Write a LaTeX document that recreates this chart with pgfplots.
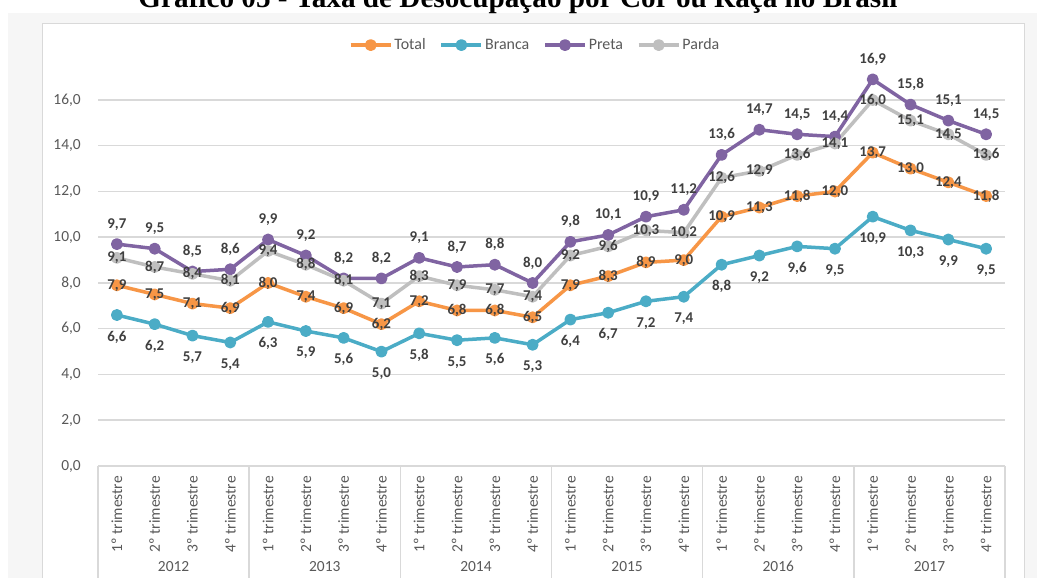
\documentclass[border=0pt]{standalone}
\usepackage{pgfplots}
\pgfplotsset{compat=1.18}
\usepackage{fontspec}
\setmainfont{Carlito}
\newfontfamily\titlefont{Liberation Serif}
\definecolor{cTotal}{RGB}{247,150,70}
\definecolor{cBranca}{RGB}{75,172,198}
\definecolor{cPreta}{RGB}{128,100,162}
\definecolor{cParda}{RGB}{191,191,191}
\definecolor{gridgray}{RGB}{217,217,217}
\definecolor{labgray}{RGB}{64,64,64}
\definecolor{tickgray}{RGB}{89,89,89}
\definecolor{bggray}{RGB}{246,246,246}
\pgfplotsset{/pgf/number format/.cd, use comma, fixed, fixed zerofill, precision=1, assume math mode=true}

\begin{document}
\begin{tikzpicture}
% fundo e moldura
\fill[bggray] (8bp,-10bp) rectangle (1037bp,565bp);
\filldraw[fill=white, draw=gridgray, line width=1bp] (42bp,-10bp) rectangle (1024bp,554bp);
\node[anchor=base, inner sep=0pt] at (518bp,570bp)
  {\resizebox{759bp}{!}{\titlefont\bfseries Gráfico 05 - Taxa de Desocupação por Cor ou Raça no Brasil}};

\begin{axis}[
    at={(98bp,112bp)}, anchor=south west,
    scale only axis,
    width=907bp, height=366bp,
    xmin=-0.5, xmax=23.5,
    ymin=0, ymax=16,
    xtick={0,...,23},
    xticklabels={1º trimestre,2º trimestre,3º trimestre,4º trimestre,
                 1º trimestre,2º trimestre,3º trimestre,4º trimestre,
                 1º trimestre,2º trimestre,3º trimestre,4º trimestre,
                 1º trimestre,2º trimestre,3º trimestre,4º trimestre,
                 1º trimestre,2º trimestre,3º trimestre,4º trimestre,
                 1º trimestre,2º trimestre,3º trimestre,4º trimestre},
    ytick={0,2,...,16},
    ymajorgrids,
    grid style={gridgray, line width=1.5bp},
    axis line style={draw=none},
    major tick length=0pt,
    tick style={draw=none},
    xticklabel style={rotate=90, anchor=east, inner sep=0pt,
                      font=\fontsize{15.5}{15.5}\selectfont, text=tickgray},
    xticklabel shift=10bp,
    yticklabel style={anchor=east, inner sep=0pt,
                      font=\fontsize{15.5}{15.5}\selectfont, text=tickgray},
    yticklabel shift=17bp,
    clip=false,
    legend columns=4,
    legend style={at={(0.482,1.150)}, anchor=center, draw=none, fill=none,
                  font=\fontsize{16}{16}\selectfont, text=tickgray,
                  /tikz/every even column/.append style={column sep=12bp}},
    legend image code/.code={
        \draw[mark repeat=2, mark phase=2] plot coordinates {(0bp,0bp)(20bp,0bp)(40bp,0bp)};},
    every axis plot/.append style={line width=3.5bp, mark=*, mark size=4.2bp,
                                   line join=round},
    nodes near coords,
    every node near coord/.append style={font=\bfseries\fontsize{15}{15}\selectfont,
                                         text=labgray, anchor=center},
]

% Total
\addplot[color=cTotal, mark options={fill=cTotal}] coordinates {
  (0,7.9) (1,7.5) (2,7.1) (3,6.9)
  (4,8.0) (5,7.4) (6,6.9) (7,6.2)
  (8,7.2) (9,6.8) (10,6.8) (11,6.5)
  (12,7.9) (13,8.3) (14,8.9) (15,9.0)
  (16,10.9) (17,11.3) (18,11.8) (19,12.0)
  (20,13.7) (21,13.0) (22,12.4) (23,11.8)
};
\addlegendentry{Total}

% Branca
\addplot[color=cBranca, mark options={fill=cBranca},
         every node near coord/.append style={yshift=-22bp}] coordinates {
  (0,6.6) (1,6.2) (2,5.7) (3,5.4)
  (4,6.3) (5,5.9) (6,5.6) (7,5.0)
  (8,5.8) (9,5.5) (10,5.6) (11,5.3)
  (12,6.4) (13,6.7) (14,7.2) (15,7.4)
  (16,8.8) (17,9.2) (18,9.6) (19,9.5)
  (20,10.9) (21,10.3) (22,9.9) (23,9.5)
};
\addlegendentry{Branca}

% Preta
\addplot[color=cPreta, mark options={fill=cPreta},
         every node near coord/.append style={yshift=20bp}] coordinates {
  (0,9.7) (1,9.5) (2,8.5) (3,8.6)
  (4,9.9) (5,9.2) (6,8.2) (7,8.2)
  (8,9.1) (9,8.7) (10,8.8) (11,8.0)
  (12,9.8) (13,10.1) (14,10.9) (15,11.2)
  (16,13.6) (17,14.7) (18,14.5) (19,14.4)
  (20,16.9) (21,15.8) (22,15.1) (23,14.5)
};
\addlegendentry{Preta}

% Parda
\addplot[color=cParda, mark options={fill=cParda}] coordinates {
  (0,9.1) (1,8.7) (2,8.4) (3,8.1)
  (4,9.4) (5,8.8) (6,8.1) (7,7.1)
  (8,8.3) (9,7.9) (10,7.7) (11,7.4)
  (12,9.2) (13,9.6) (14,10.3) (15,10.2)
  (16,12.6) (17,12.9) (18,13.6) (19,14.1)
  (20,16.0) (21,15.1) (22,14.5) (23,13.6)
};
\addlegendentry{Parda}

% separadores e anos
\foreach \s in {-0.5,3.5,7.5,11.5,15.5,19.5,23.5} {
  \edef\tmp{\noexpand\draw[gridgray, line width=1.5bp] (axis cs:\s,0) -- ([yshift=-130bp]axis cs:\s,0);}\tmp
}
\foreach \c/\y in {1.5/2012,5.5/2013,9.5/2014,13.5/2015,17.5/2016,21.5/2017} {
  \edef\tmp{\noexpand\node[font=\noexpand\fontsize{15.5}{15.5}\noexpand\selectfont, text=tickgray,
    anchor=base, inner sep=0pt] at (axis cs:\c,0) [yshift=-105bp] {\y};}\tmp
}
\end{axis}
\pgfresetboundingbox
\useasboundingbox (0,0) rectangle (1037bp,578bp);
\end{tikzpicture}
\end{document}
